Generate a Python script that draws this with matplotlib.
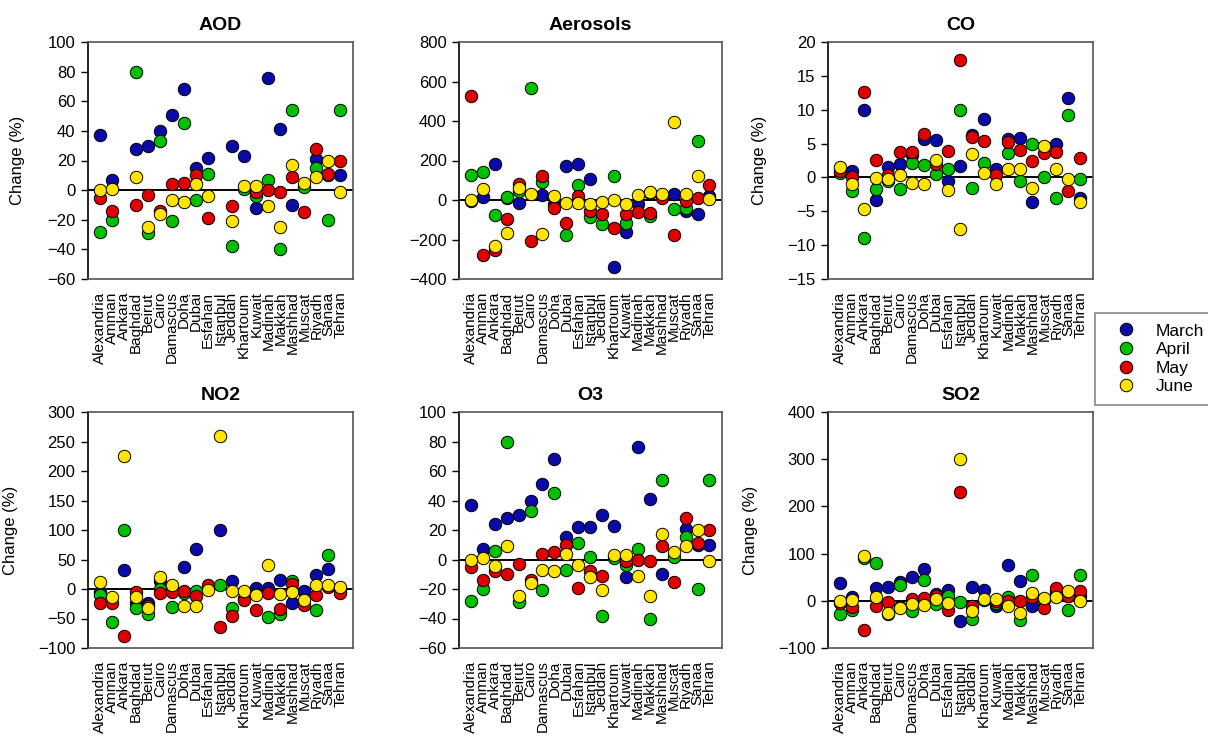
import numpy as np
import matplotlib
matplotlib.use("Agg")
import matplotlib.pyplot as plt
from matplotlib.lines import Line2D

plt.rcParams['font.family'] = ['Liberation Sans', 'DejaVu Sans']

nan = np.nan

cities = ["Alexandria", "Amman", "Ankara", "Baghdad", "Beirut", "Cairo", "Damascus",
          "Doha", "Dubai", "Esfahan", "Istanbul", "Jeddah", "Khartoum", "Kuwait",
          "Madinah", "Makkah", "Mashhad", "Muscat", "Riyadh", "Sanaa", "Tehran"]
months = ["March", "April", "May", "June"]
colors = ["#0a0aa8", "#00c000", "#e00000", "#ffe400"]

# AOD
aod_march = [37, 7, nan, 28, 30, 40, 51, 68, 15, 22, nan, 30, 23, -12, 76, 41, -10, nan, 21, 10, 10]
aod_april = [-28, -20, nan, 80, -29, 33, -21, 45, -7, 11, nan, -38, 1, -4, 7, -40, 54, 2, 15, -20, 54]
aod_may = [-5, -14, nan, -10, -3, -14, 4, 5, 10, -19, nan, -11, nan, -1, 0, -1, 9, -15, 28, 11, 20]
aod_june = [0, 1, nan, 9, -25, -16, -7, -8, 4, -4, nan, -21, 3, 3, -11, -25, 17, 5, 9, 20, -1]

# Aerosols
aer_march = [-5, 17, 180, 10, -13, nan, 25, -22, 171, 182, 107, nan, -338, -164, -22, 37, nan, 32, -55, -70, 20]
aer_april = [125, 142, -75, 15, 45, 566, 90, nan, -177, 74, -84, -122, 124, -117, nan, -80, nan, -44, -38, 301, nan]
aer_may = [527, -278, -253, -97, 79, -206, 120, -38, -114, 20, -55, -69, -142, -69, -60, -64, 12, -177, -5, 8, 75]
aer_june = [0, 58, -231, -167, 62, 28, -172, 20, -13, -13, -22, -10, 0, -18, 23, 42, 28, 393, 32, 120, 7]

# CO
co_march = [nan, 1.0, 10.0, -3.35, 1.5, 2.0, 3.3, 5.7, 5.6, -0.5, 1.7, 6.2, 8.7, 1.3, 5.7, 5.8, -3.6, nan, 5.0, 11.8, -3.1]
co_april = [0.6, -2.0, -9.0, -1.7, -0.6, -1.7, 2.2, 1.9, 0.5, 1.2, 10.0, -1.6, 2.2, nan, 3.6, -0.6, 4.9, 0.1, -3.0, 9.2, -0.3]
co_may = [1.0, 0.0, 12.6, 2.6, 0.3, 3.8, 3.7, 6.4, 2.0, 3.9, 17.3, 6.0, 5.4, 0.3, 5.3, 4.1, 2.4, 3.6, 3.8, -2.0, 2.8]
co_june = [1.5, -1.0, -4.7, -0.15, -0.3, 0.3, -0.8, -1.0, 2.6, -1.9, -7.6, 3.4, 0.7, -0.9, 1.3, 1.2, -1.5, 4.7, 1.3, -0.2, -3.7]

# NO2
no2_march = [-5, nan, 33, -24, -23, 13, nan, 37, 67, nan, 100, 13, nan, 2, 2, 15, -24, -3, 23, 34, nan]
no2_april = [-10, -56, 100, -33, -43, 0, -30, -7, -3, nan, 7, -32, -15, -8, -48, -42, 14, nan, -35, 58, 0]
no2_may = [-23, -24, -80, -5, -28, -7, -4.5, -3, -12, 7, -64, -45, -19, -35, -7, -34, 8, -27, -10, 3, -7]
no2_june = [12, -14, 226, -14, -32, 21, 7, -29, -28, -2, 259, -3, -3, -11, 40, -8, -5, -19, 6, 6, 4]

# O3
o3_march = [37, 7, 24, 28, 30, 40, 51, 68, 15, 22, 22, 30, 23, -12, 76, 41, -10, nan, 21, 10, 10]
o3_april = [-28, -20, 6, 80, -29, 33, -21, 45, -7, 11, 2, -38, 1, -4, 7, -40, 54, 2, 15, -20, 54]
o3_may = [-5, -14, -8, -10, -3, -14, 4, 5, 10, -19, -7.5, -11, nan, -1, 0, -1, 9, -15, 28, 11, 20]
o3_june = [0, 1, -4.5, 9, -25, -16, -7, -8, 4, -4, -12, -21, 3, 3, -11, -25, 17, 5, 9, 20, -1]

# SO2
so2_march = [37, 7, nan, 28, 30, 40, 51, 68, 15, 22, -42, 30, 23, -11, 76, 41, -10, nan, 21, 10, 10]
so2_april = [-28, -20, 90, 80, -29, 33, -21, 45, -7, 11, -3, -38, 1, -4, 8, -40, 54, 2, 15, -20, 54]
so2_may = [-5, -14, -61, -10, -3, -14, 4, 5, 10, -19, 230, -11, nan, -1, 0, -1, 9, -15, 28, 11, 20]
so2_june = [0, 1, 95, 9, -25, -16, -7, -8, 4, -4, 300, -21, 3, 3, -11, -25, 17, 5, 9, 20, -1]

panels = [
    ("AOD", [aod_march, aod_april, aod_may, aod_june], (-60, 100), 20, True),
    ("Aerosols", [aer_march, aer_april, aer_may, aer_june], (-400, 800), 200, False),
    ("CO", [co_march, co_april, co_may, co_june], (-15, 20), 5, True),
    ("NO2", [no2_march, no2_april, no2_may, no2_june], (-100, 300), 50, True),
    ("O3", [o3_march, o3_april, o3_may, o3_june], (-60, 100), 20, False),
    ("SO2", [so2_march, so2_april, so2_may, so2_june], (-100, 400), 100, True),
]

W, H = 1208, 736
lefts = [88, 459, 828]
widths = [265, 263, 265]
tops = [42, 412]
heights = [237, 236]
label_x = [[-0.238, None, -0.23], [-0.264, None, -0.264]]

fig = plt.figure(figsize=(W / 100, H / 100), dpi=100)
x = np.arange(len(cities))

for i, (name, series, ylim, step, has_label) in enumerate(panels):
    r, c = divmod(i, 3)
    ax = fig.add_axes([lefts[c] / W, 1 - (tops[r] + heights[r]) / H, widths[c] / W, heights[r] / H])
    ax.axhline(0, color="black", lw=1.4, zorder=1)
    for vals, col in zip(series, colors):
        ax.scatter(x, vals, s=80, c=col, edgecolors="black", linewidths=0.7, zorder=3)
    ax.set_xlim(-1, 21.05)
    ax.set_ylim(*ylim)
    ax.set_yticks(np.arange(ylim[0], ylim[1] + step / 2, step))
    ax.set_xticks(x)
    ax.set_xticklabels(cities, rotation=90, fontsize=11)
    ax.tick_params(axis="x", length=0, pad=9)
    ax.tick_params(axis="y", labelsize=12, length=5, width=1, direction="out", pad=4)
    for s in ax.spines.values():
        s.set_color("#555555")
        s.set_linewidth(1.2)
    ax.spines["left"].set_color("black")
    ax.set_title(name, fontsize=14, fontweight="bold", pad=9)
    if has_label:
        ax.set_ylabel("Change (%)", fontsize=12)
        ax.yaxis.set_label_coords(label_x[r][c], 0.5)

handles = [Line2D([], [], ls="none", marker="o", ms=9, mfc=col, mec="black", mew=0.7)
           for col in colors]
leg = fig.legend(handles, months, loc="upper left", bbox_to_anchor=(1095 / W, 1 - 313 / H),
                 fontsize=12.5, frameon=True, fancybox=False, borderpad=0.6,
                 handletextpad=0.5, labelspacing=0.2, handlelength=2.4, borderaxespad=0)
leg.get_frame().set_edgecolor("#777777")
leg.get_frame().set_linewidth(1.3)

fig.savefig("out.png", dpi=100)
